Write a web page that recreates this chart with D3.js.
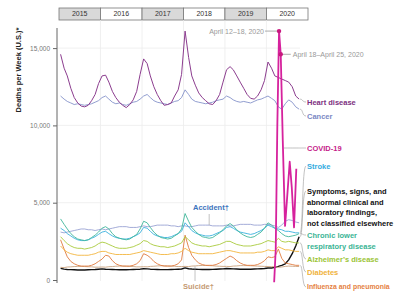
<!DOCTYPE html>
<html><head><meta charset="utf-8">
<script src="https://cdn.jsdelivr.net/npm/d3@7"></script>
<style>
body{margin:0;background:#fff}
svg{display:block;font-family:"Liberation Sans",Arial,sans-serif}
</style>
</head><body>
<svg id="chart" width="394" height="296"></svg>
<script>
const years = ["2015","2016","2017","2018","2019","2020"];
const yTicks = [0, 5000, 10000, 15000];
// monthly (mid-month) dates Jan 2015 .. Oct 2020
const months = d3.timeMonth.range(new Date(2015,0,1), new Date(2020,10,1)).map(d => d3.timeDay.offset(d, 14));

const heart = [14600,13700,13200,12400,11800,11450,11250,11200,11300,11600,12000,12700,
 13200,13250,12800,12200,11800,11500,11300,11150,11350,11650,12200,13300,
 14300,14000,13200,12500,12000,11600,11300,11350,11450,11900,12300,13300,
 16100,14400,13200,12600,12100,11800,11600,11400,11350,11600,12000,12800,
 13600,13800,13600,13200,12800,12400,12000,11750,11700,11900,12300,12900,
 14100,13700,13200,13100,13000,12900,12800,12500,11900,11700];
const cancer = [11900,11700,11550,11450,11350,11400,11350,11300,11350,11400,11500,11600,
 11800,11900,11700,11500,11400,11450,11350,11300,11400,11500,11550,11700,
 11900,12000,11800,11600,11500,11450,11400,11350,11450,11550,11600,11800,
 12300,12000,11700,11550,11500,11450,11400,11450,11500,11600,11650,11700,
 11900,11800,11650,11550,11500,11550,11500,11450,11550,11650,11700,11800,
 11900,11750,11600,11200,11050,11400,11650,11500,11200,11050];
const clrd = [3950,3600,3300,3000,2800,2650,2600,2550,2600,2750,2900,3100,
 3350,3450,3300,3000,2800,2700,2650,2600,2650,2800,2950,3300,
 3800,3700,3400,3100,2900,2750,2700,2650,2700,2850,3000,3300,
 4300,3800,3400,3150,2950,2800,2750,2700,2750,2900,3050,3250,
 3500,3650,3500,3250,3050,2900,2800,2750,2800,2950,3100,3350,
 3700,3550,3350,3200,3000,2850,2800,2850,2900,3000];
const stroke = [3350,3200,3000,2850,2700,2600,2550,2550,2600,2700,2800,2950,
 3100,3150,3000,2850,2750,2700,2650,2650,2700,2800,2900,3050,
 3400,3350,3150,2950,2850,2800,2750,2750,2800,2900,3000,3150,
 3700,3450,3200,3050,2950,2900,2850,2850,2900,3000,3100,3200,
 3400,3450,3350,3200,3100,3050,3000,2950,3000,3100,3200,3350,
 3550,3450,3350,3300,3250,3150,3150,3100,3050,3050];
const accident = [3100,3050,3100,3150,3200,3250,3300,3300,3250,3250,3200,3250,
 3300,3250,3300,3350,3400,3450,3450,3450,3400,3400,3400,3450,
 3500,3450,3450,3500,3550,3550,3550,3550,3500,3500,3450,3500,
 3500,3450,3450,3500,3550,3550,3550,3550,3500,3500,3500,3500,
 3550,3500,3500,3550,3600,3600,3600,3600,3550,3550,3550,3600,
 3600,3550,3500,3400,3550,3800,3900,3850,3750,3700];
const alzheimers = [2800,2550,2350,2200,2100,2050,2050,2000,2050,2100,2200,2350,
 2450,2400,2300,2200,2100,2050,2050,2050,2100,2150,2250,2350,
 2550,2500,2350,2250,2200,2150,2150,2100,2150,2200,2300,2400,
 2800,2600,2400,2300,2250,2200,2200,2150,2200,2250,2300,2400,
 2500,2500,2400,2300,2250,2200,2200,2200,2250,2300,2350,2450,
 2550,2500,2450,2700,2500,2450,2500,2450,2400,2400];
const diabetes = [2200,1950,1800,1700,1650,1600,1600,1600,1600,1650,1700,1800,
 1850,1850,1750,1700,1650,1650,1650,1650,1650,1700,1750,1800,
 1900,1850,1800,1750,1700,1650,1650,1650,1700,1700,1750,1850,
 2050,1900,1800,1750,1700,1700,1700,1700,1700,1750,1800,1850,
 1900,1900,1850,1800,1750,1750,1750,1750,1750,1800,1800,1850,
 1950,1900,1900,2150,2050,1950,1950,1900,1850,1850];
const influenza = [2600,2000,1500,1200,1050,950,900,900,900,950,1050,1200,
 1350,1600,1550,1250,1050,950,900,900,900,950,1050,1250,
 1700,1600,1450,1200,1050,950,900,900,900,950,1050,1300,
 2900,2100,1600,1300,1100,1000,950,950,950,1000,1100,1250,
 1400,1550,1450,1250,1100,1000,950,950,950,1000,1100,1250,
 1500,1450,1500,2000,1400,1100,1050,1000,950,950];
const suicide = [820,800,840,850,870,880,880,870,860,850,830,830,
 840,830,860,870,890,900,900,890,880,870,850,850,
 860,850,880,890,910,920,920,910,900,890,870,870,
 880,870,900,910,930,940,940,930,920,900,890,880,
 880,870,900,910,930,930,930,920,910,900,890,880,
 870,860,870,820,840,880,900,890,880,870];
const symptoms = [750,700,680,670,660,650,650,650,660,670,680,700,
 720,700,690,680,670,660,660,660,670,680,690,700,
 730,720,700,690,680,670,670,670,680,690,700,710,
 780,730,710,700,690,680,680,680,690,700,710,720,
 740,730,720,710,700,700,700,700,710,720,730,740,
 780,780,820,880,950,1050,1300,1700,2200,2800];
const covidDates = ["2020-03-09","2020-03-23","2020-04-06","2020-04-21","2020-05-06","2020-05-24","2020-06-13","2020-06-28","2020-07-24","2020-08-11","2020-08-31","2020-09-20"];
const covidValues = [-150,2000,10000,16100,14600,9000,3500,5000,7650,6000,3400,7200];

const svg = d3.select("#chart");
const x = d3.scaleTime().domain([new Date(2015,0,1), new Date(2021,0,1)]).range([59, 308]);
const y = d3.scaleLinear().domain([0, 16300]).range([280, 28]);
const parse = d3.timeParse("%Y-%m-%d");

// year strip
const yr = years.map(s => ({s, a: new Date(+s,0,1), b: new Date(+s+1,0,1)}));
svg.selectAll("rect.yr").data(yr).join("rect")
  .attr("x", d => x(d.a)).attr("y", 8).attr("width", d => x(d.b) - x(d.a)).attr("height", 12)
  .attr("fill", (d,i) => i % 2 === 0 ? "#d9d9d9" : "#fff").attr("stroke", "#777").attr("stroke-width", 0.8);
svg.selectAll("text.yr").data(yr).join("text")
  .attr("x", d => (x(d.a) + x(d.b)) / 2).attr("y", 14).attr("dy", "0.35em")
  .attr("text-anchor", "middle").attr("font-size", 7).attr("fill", "#333").text(d => d.s);

// grid
svg.selectAll("line.vg").data(yr.slice(1)).join("line")
  .attr("x1", d => x(d.a)).attr("x2", d => x(d.a)).attr("y1", 20).attr("y2", 281)
  .attr("stroke", "#ececec").attr("stroke-width", 0.8);
svg.selectAll("line.hg").data(yTicks.slice(1)).join("line")
  .attr("x1", 57).attr("x2", 300).attr("y1", d => y(d)).attr("y2", d => y(d))
  .attr("stroke", "#ececec").attr("stroke-width", 0.8);

// y axis
const ax = svg.append("g").attr("transform", "translate(57,0)")
  .call(d3.axisLeft(y).tickValues(yTicks).tickFormat(d3.format(",")).tickSize(4).tickSizeOuter(0));
ax.select(".domain").attr("stroke", "#666").attr("d", `M0,${y(16300)}V${283}`);
ax.selectAll(".tick line").attr("stroke", "#666");
ax.selectAll(".tick text").attr("font-size", 6.5).attr("fill", "#777").attr("font-family", "Liberation Sans, Arial, sans-serif");
svg.append("text").attr("transform", "translate(21,70) rotate(-90)").attr("text-anchor", "middle")
  .attr("font-size", 7.5).attr("font-weight", "bold").attr("fill", "#222").text("Deaths per Week (U.S.)*");

const line = d3.line().x(d => x(d[0])).y(d => y(d[1]));
const series = [
  {key:"symptoms", v:symptoms, c:"#111111", w:1.4},
  {key:"suicide", v:suicide, c:"#c9a27e", w:0.9},
  {key:"influenza", v:influenza, c:"#e07a3e", w:0.9},
  {key:"diabetes", v:diabetes, c:"#f3b53e", w:0.9},
  {key:"alzheimers", v:alzheimers, c:"#a9cb3c", w:0.9},
  {key:"accident", v:accident, c:"#9aa3d4", w:0.9},
  {key:"stroke", v:stroke, c:"#39b1de", w:0.9},
  {key:"clrd", v:clrd, c:"#3fb79b", w:0.9},
  {key:"cancer", v:cancer, c:"#8592c9", w:0.9},
  {key:"heart", v:heart, c:"#8c3d8f", w:1}
];
series.forEach(s => {
  svg.append("path").datum(months.map((d,i) => [d, s.v[i]]))
    .attr("fill", "none").attr("stroke", s.c).attr("stroke-width", s.w).attr("stroke-linejoin", "round")
    .attr("d", line);
});
const covid = covidDates.map((d,i) => [parse(d), covidValues[i]]);
svg.append("path").datum(covid).attr("fill", "none").attr("stroke", "#d6229d").attr("stroke-width", 1.8)
  .attr("stroke-linejoin", "round").attr("d", line);

// annotations for covid peak
const pk = covid[3], pk2 = covid[4];
svg.append("line").attr("x1", x(pk[0]) - 14).attr("x2", x(pk[0])).attr("y1", y(pk[1])).attr("y2", y(pk[1])).attr("stroke", "#888").attr("stroke-width", 0.7);
svg.append("line").attr("x1", x(pk2[0])).attr("x2", x(pk2[0]) + 10).attr("y1", y(pk2[1])).attr("y2", y(pk2[1])).attr("stroke", "#888").attr("stroke-width", 0.7);
svg.selectAll("circle.pk").data([pk, pk2]).join("circle").attr("cx", d => x(d[0])).attr("cy", d => y(d[1])).attr("r", 2.2).attr("fill", "#c8187f");
svg.append("text").attr("x", x(pk[0]) - 15).attr("y", y(pk[1])).attr("dy", "0.35em").attr("text-anchor", "end")
  .attr("font-size", 7).attr("fill", "#999").text("April 12–18, 2020");
svg.append("text").attr("x", x(pk2[0]) + 12).attr("y", y(pk2[1])).attr("dy", "0.35em")
  .attr("font-size", 7).attr("fill", "#999").text("April 18–April 25, 2020");

// right labels
const lab = [
  {key:"heart", t:["Heart disease"], c:"#7d2f80", y:102, fs:7.5},
  {key:"cancer", t:["Cancer"], c:"#7a88c4", y:116, fs:7.5},
  {key:"covid", t:["COVID-19"], c:"#c51d8a", y:148, fs:7.5},
  {key:"stroke", t:["Stroke"], c:"#33ace0", y:166, fs:7.5},
  {key:"symptoms", t:["Symptoms, signs, and","abnormal clinical and","laboratory findings,","not classified elsewhere"], c:"#111", y:191, fs:7.5},
  {key:"clrd", t:["Chronic lower","respiratory disease"], c:"#3ab494", y:235, fs:7.5},
  {key:"alzheimers", t:["Alzheimer’s disease"], c:"#9cc436", y:259, fs:7.5},
  {key:"diabetes", t:["Diabetes"], c:"#f0b23b", y:272, fs:7.5},
  {key:"influenza", t:["Influenza and pneumonia"], c:"#e5813f", y:287, fs:6.9}
];
const endPt = k => {
  const s = series.find(d => d.key === k); const n = s.v.length - 1;
  return [x(months[n]), y(s.v[n])];
};
lab.forEach(l => {
  let ex, ey;
  if (l.key === "covid") { ex = 283; ey = l.y; } else { [ex, ey] = endPt(l.key); }
  svg.append("path").attr("fill", "none").attr("stroke", "#999").attr("stroke-width", 0.6)
    .attr("d", `M${ex + 1},${ey}C${303},${ey} ${302},${l.y} ${306},${l.y}`);
  const t = svg.append("text").attr("x", 307).attr("y", l.y).attr("font-size", l.fs).attr("font-weight", "bold").attr("fill", l.c);
  l.t.forEach((s, i) => t.append("tspan").attr("x", 307).attr("dy", i === 0 ? "0.35em" : "1.45em").text(s));
});

// bottom labels
const aIdx = 43, sIdx = 47;
svg.append("line").attr("x1", x(months[aIdx])).attr("x2", x(months[aIdx])).attr("y1", 214).attr("y2", y(accident[aIdx])).attr("stroke", "#999").attr("stroke-width", 0.6);
svg.append("text").attr("x", 193).attr("y", 210).attr("font-size", 7.5).attr("font-weight", "bold").attr("fill", "#3b74bd").text("Accident†");
svg.append("line").attr("x1", x(months[sIdx]) - 28).attr("x2", x(months[sIdx]) - 28).attr("y1", 281).attr("y2", y(suicide[sIdx])).attr("stroke", "#999").attr("stroke-width", 0.6);
svg.append("text").attr("x", 183).attr("y", 289).attr("font-size", 7.5).attr("font-weight", "bold").attr("fill", "#c49a72").text("Suicide†");
</script>
</body></html>
